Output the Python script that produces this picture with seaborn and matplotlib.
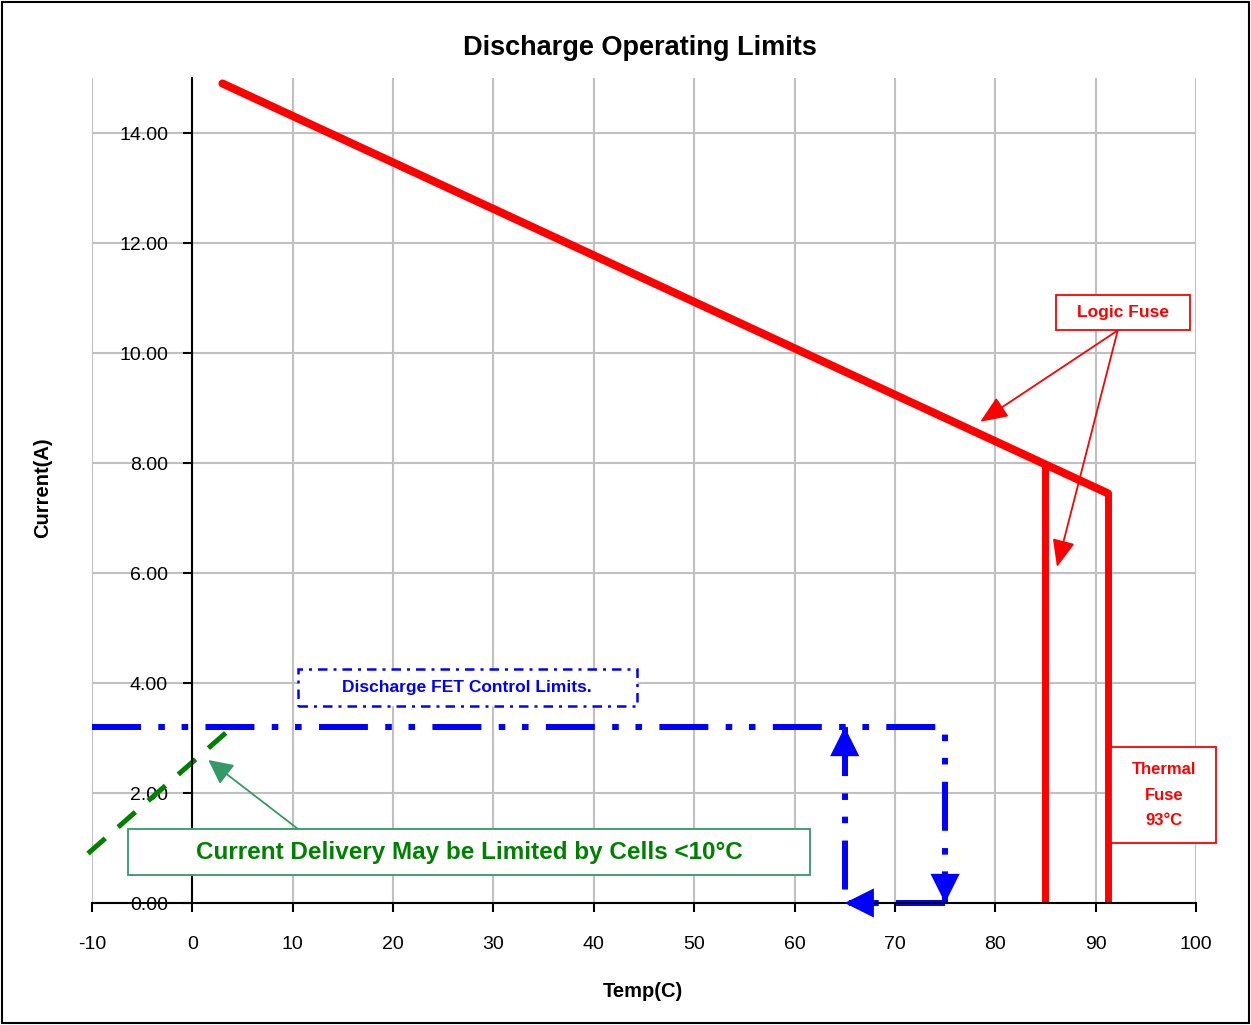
import matplotlib
matplotlib.use("Agg")
import matplotlib.pyplot as plt
import seaborn as sns
from matplotlib.patches import Rectangle

# data
x_ticks = list(range(-10, 101, 10))
y_ticks = [0, 2, 4, 6, 8, 10, 12, 14]

limit_x = [3.0, 91.2]          # red derating line
limit_y = [14.9, 7.45]
logic_x = [85.0, 85.0]         # logic fuse drop
logic_y = [0.0, 7.95]
thermal_x = [91.2, 91.2]       # thermal fuse drop
thermal_y = [0.0, 7.45]

fet_x = [-10.0, 75.0, 75.0]    # FET control limit, out and down
fet_y = [3.2, 3.2, 0.0]
back_x = [75.0, 65.0, 65.0]    # return path along the bottom and up
back_y = [0.0, 0.0, 3.2]

cold_x = [-10.4, 4.0]          # cold cell limit
cold_y = [0.9, 3.2]

sns.set_theme(style="white")
plt.rcParams["font.family"] = ["Liberation Sans", "DejaVu Sans"]
plt.rcParams["text.color"] = "black"
plt.rcParams["axes.labelcolor"] = "black"

RED = "#ff0000"
BLUE = "#0000ff"
GREEN = "#008000"
SEA = "#339966"
dashdotdot = (0, (8.2, 2.9, 1.1, 2.8, 1.1, 2.9))

fig = plt.figure(figsize=(12.51, 10.25), dpi=100)
ax = fig.add_axes([92 / 1251, 1 - 903 / 1025, 1104 / 1251, 825 / 1025])

sns.lineplot(x=limit_x, y=limit_y, sort=False, estimator=None, color=RED, lw=5.8, ax=ax)
sns.lineplot(x=logic_x, y=logic_y, sort=False, estimator=None, color=RED, lw=5.0, ax=ax)
sns.lineplot(x=thermal_x, y=thermal_y, sort=False, estimator=None, color=RED, lw=5.0, ax=ax)

for xs, ys in [(fet_x, fet_y), (back_x, back_y)]:
    ln = sns.lineplot(x=xs, y=ys, sort=False, estimator=None, color=BLUE, lw=4.3, ax=ax).lines[-1]
    ln.set_linestyle(dashdotdot)
    ln.set_clip_on(False)

ln = sns.lineplot(x=cold_x, y=cold_y, sort=False, estimator=None, color=GREEN, lw=3.6, ax=ax).lines[-1]
ln.set_linestyle((0, (4.6, 3.4)))
ln.set_clip_on(False)

# blue arrow heads at the ends of the path
head = dict(arrowstyle="-|>,head_length=1.0,head_width=0.5", mutation_scale=21,
            color=BLUE, lw=0, shrinkA=0, shrinkB=0)
ax.annotate("", xy=(fet_x[-1], fet_y[-1]), xytext=(fet_x[-1], fet_y[-1] + 0.6), arrowprops=head,
            annotation_clip=False)
ax.annotate("", xy=(back_x[1], back_y[1]), xytext=(back_x[1] + 3, back_y[1]), arrowprops=head,
            annotation_clip=False)
ax.annotate("", xy=(back_x[-1], back_y[-1]), xytext=(back_x[-1], back_y[-1] - 0.6), arrowprops=head)


def callout_box(x0, x1, y0, y1, ec, lw=1.3, ls="-"):
    ax.add_patch(Rectangle((x0, y0), x1 - x0, y1 - y0, fc="white", ec=ec, lw=lw, ls=ls,
                           clip_on=False, zorder=4))


# logic fuse callout
thin_red = dict(arrowstyle="-|>,head_length=1.2,head_width=0.5", mutation_scale=14,
                color=RED, lw=1.3, shrinkA=0, shrinkB=0)
callout_box(86.05, 99.4, 10.42, 11.05, RED)
ax.text(92.7, 10.74, "Logic Fuse", color=RED, fontsize=12.5, fontweight="bold",
        ha="center", va="center", zorder=5)
ax.annotate("", xy=(78.5, 8.75), xytext=(92.2, 10.41), arrowprops=thin_red)
ax.annotate("", xy=(86.15, 6.11), xytext=(92.2, 10.41), arrowprops=thin_red)

# thermal fuse callout
callout_box(91.53, 102.0, 1.09, 2.84, RED)
ax.text(96.8, 1.96, "Thermal\nFuse\n93°C", color=RED, fontsize=12, fontweight="bold",
        ha="center", va="center", linespacing=1.85, multialignment="center",
        clip_on=False, zorder=5)

# FET control callout
callout_box(10.53, 44.3, 3.58, 4.25, BLUE, lw=1.8, ls=(0, (3.8, 2.4, 1.2, 2.4)))
ax.text(27.4, 3.91, "Discharge FET Control Limits.", color=BLUE, fontsize=12.5,
        fontweight="bold", ha="center", va="center", zorder=5)

# cold cell callout
callout_box(-6.41, 61.54, 0.51, 1.345, SEA)
ax.text(27.6, 0.92, "Current Delivery May be Limited by Cells <10°C", color=GREEN,
        fontsize=17.5, fontweight="bold", ha="center", va="center", zorder=5)
ax.annotate("", xy=(1.59, 2.60), xytext=(10.53, 1.345),
            arrowprops=dict(arrowstyle="-|>,head_length=1.0,head_width=0.5",
                            mutation_scale=15, color=SEA, lw=1.3, shrinkA=0, shrinkB=0))

# axes styling
ax.set_xlim(-10, 100)
ax.set_ylim(0, 15)
ax.set_xticks(x_ticks)
ax.set_xticklabels([str(v) for v in x_ticks])
ax.set_yticks(y_ticks)
ax.set_yticklabels([f"{v:.2f}" for v in y_ticks])
ax.grid(True, color="#c0c0c0", lw=1.5)
ax.set_axisbelow(True)
ax.spines["top"].set_visible(False)
ax.spines["right"].set_visible(False)
ax.spines["left"].set_position(("data", 0))
for s in ("left", "bottom"):
    ax.spines[s].set_color("black")
    ax.spines[s].set_linewidth(1.5)
ax.tick_params(axis="x", direction="out", length=6.5, width=1.5, pad=17,
               labelsize=14, colors="black", bottom=True)
ax.tick_params(axis="y", direction="out", length=6.5, width=1.5, pad=11,
               labelsize=14, colors="black", left=True)

ax.set_xlabel("Temp(C)", fontsize=14.5, fontweight="bold", va="center")
ax.xaxis.set_label_coords(0.499, -0.107)
ax.set_ylabel("Current(A)", fontsize=14.5, fontweight="bold", va="center")
ax.yaxis.set_label_coords(-0.045, 0.504)

fig.text(640 / 1251, 1 - 48 / 1025, "Discharge Operating Limits", fontsize=19.5,
         fontweight="bold", ha="center", va="center")

fig.patches.append(Rectangle((0.0016, 0.002), 0.9968, 0.996, transform=fig.transFigure,
                             fill=False, ec="black", lw=1.5))

fig.savefig("out.png", dpi=100)
